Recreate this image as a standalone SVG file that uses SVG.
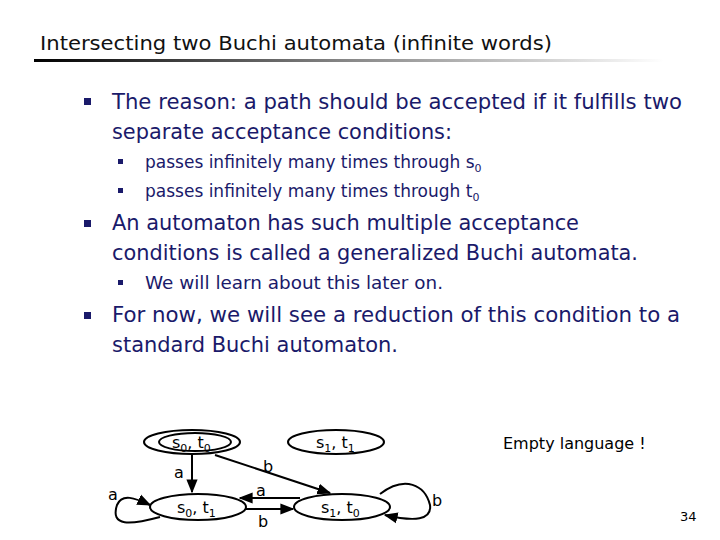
<svg xmlns="http://www.w3.org/2000/svg" width="720" height="540" viewBox="0 0 720 540">
<defs>
<linearGradient id="g" x1="0" x2="1"><stop offset="0" stop-color="#000"/><stop offset="0.5" stop-color="#888"/><stop offset="1" stop-color="#fff"/></linearGradient>
<marker id="ah" viewBox="0 0 10 10" refX="9" refY="5" markerWidth="7" markerHeight="7" orient="auto"><path d="M0,1 L10,5 L0,9 z" fill="#000"/></marker>
<style>
text{font-family:"DejaVu Sans","Noto Sans",sans-serif}
.t{fill:#1a1a6a;font-size:21px}
.s{fill:#1a1a6a;font-size:17px}
.b{fill:#1a1a6a}
.n{fill:#fff;stroke:#000;stroke-width:2}
.l{font-size:16px;fill:#000}
.e{fill:none;stroke:#000;stroke-width:2;marker-end:url(#ah)}
</style>
</defs>
<rect width="720" height="540" fill="#fff"/>
<text x="40" y="50" font-size="20" fill="#111" textLength="512" lengthAdjust="spacingAndGlyphs">Intersecting two Buchi automata (infinite words)</text>
<rect x="34" y="59" width="630" height="3" fill="url(#g)"/>
<rect class="b" x="84" y="98" width="7" height="7"/>
<text class="t" x="112" y="109" textLength="570" lengthAdjust="spacingAndGlyphs">The reason: a path should be accepted if it fulfills two</text>
<text class="t" x="112" y="139" textLength="340" lengthAdjust="spacingAndGlyphs">separate acceptance conditions:</text>
<rect class="b" x="118" y="159" width="5" height="5"/>
<text class="s" x="145" y="168">passes infinitely many times through s<tspan font-size="11" dy="4">0</tspan></text>
<rect class="b" x="118" y="188" width="5" height="5"/>
<text class="s" x="145" y="197">passes infinitely many times through t<tspan font-size="11" dy="4">0</tspan></text>
<rect class="b" x="84" y="220" width="7" height="7"/>
<text class="t" x="112" y="230" textLength="467" lengthAdjust="spacingAndGlyphs">An automaton has such multiple acceptance</text>
<text class="t" x="112" y="260" textLength="526" lengthAdjust="spacingAndGlyphs">conditions is called a generalized Buchi automata.</text>
<rect class="b" x="118" y="280" width="5" height="5"/>
<text class="s" x="145" y="289" textLength="298" lengthAdjust="spacingAndGlyphs">We will learn about this later on.</text>
<rect class="b" x="84" y="312" width="7" height="7"/>
<text class="t" x="112" y="322" textLength="568" lengthAdjust="spacingAndGlyphs">For now, we will see a reduction of this condition to a</text>
<text class="t" x="112" y="352" textLength="286" lengthAdjust="spacingAndGlyphs">standard Buchi automaton.</text>
<g id="edges">
<path class="e" d="M192,455 L192,492"/>
<path class="e" d="M215,455 L330,493"/>
<path class="e" d="M300,498 L240,498"/>
<path class="e" d="M245,509 L293,509"/>
<path class="e" d="M160,517 C130,525 110,527 117,505 C122,493 135,498 150,505"/>
<path class="e" d="M380,494 C405,475 425,485 430,505 C432,520 415,522 385,515"/>
<text class="l" x="174" y="478">a</text>
<text class="l" x="263" y="472">b</text>
<text class="l" x="256" y="496">a</text>
<text class="l" x="258" y="527">b</text>
<text class="l" x="108" y="500">a</text>
<text class="l" x="432" y="506">b</text>
</g>
<g id="n00"><ellipse class="n" cx="192" cy="442" rx="48" ry="12"/><ellipse class="n" cx="195" cy="442" rx="36" ry="9"/><text class="l" x="172" y="448">s<tspan font-size="11" dy="4">0</tspan><tspan dy="-4">, t</tspan><tspan font-size="11" dy="4">0</tspan></text></g>
<g id="n11"><ellipse class="n" cx="336" cy="442" rx="48" ry="12"/><text class="l" x="316" y="448">s<tspan font-size="11" dy="4">1</tspan><tspan dy="-4">, t</tspan><tspan font-size="11" dy="4">1</tspan></text></g>
<g id="n01"><ellipse class="n" cx="198" cy="507" rx="48" ry="13"/><text class="l" x="177" y="513">s<tspan font-size="11" dy="4">0</tspan><tspan dy="-4">, t</tspan><tspan font-size="11" dy="4">1</tspan></text></g>
<g id="n10"><ellipse class="n" cx="342" cy="507" rx="48" ry="13"/><text class="l" x="321" y="513">s<tspan font-size="11" dy="4">1</tspan><tspan dy="-4">, t</tspan><tspan font-size="11" dy="4">0</tspan></text></g>
<text class="l" x="503" y="449">Empty language !</text>
<text x="680" y="521" font-size="13" fill="#000">34</text>
</svg>
